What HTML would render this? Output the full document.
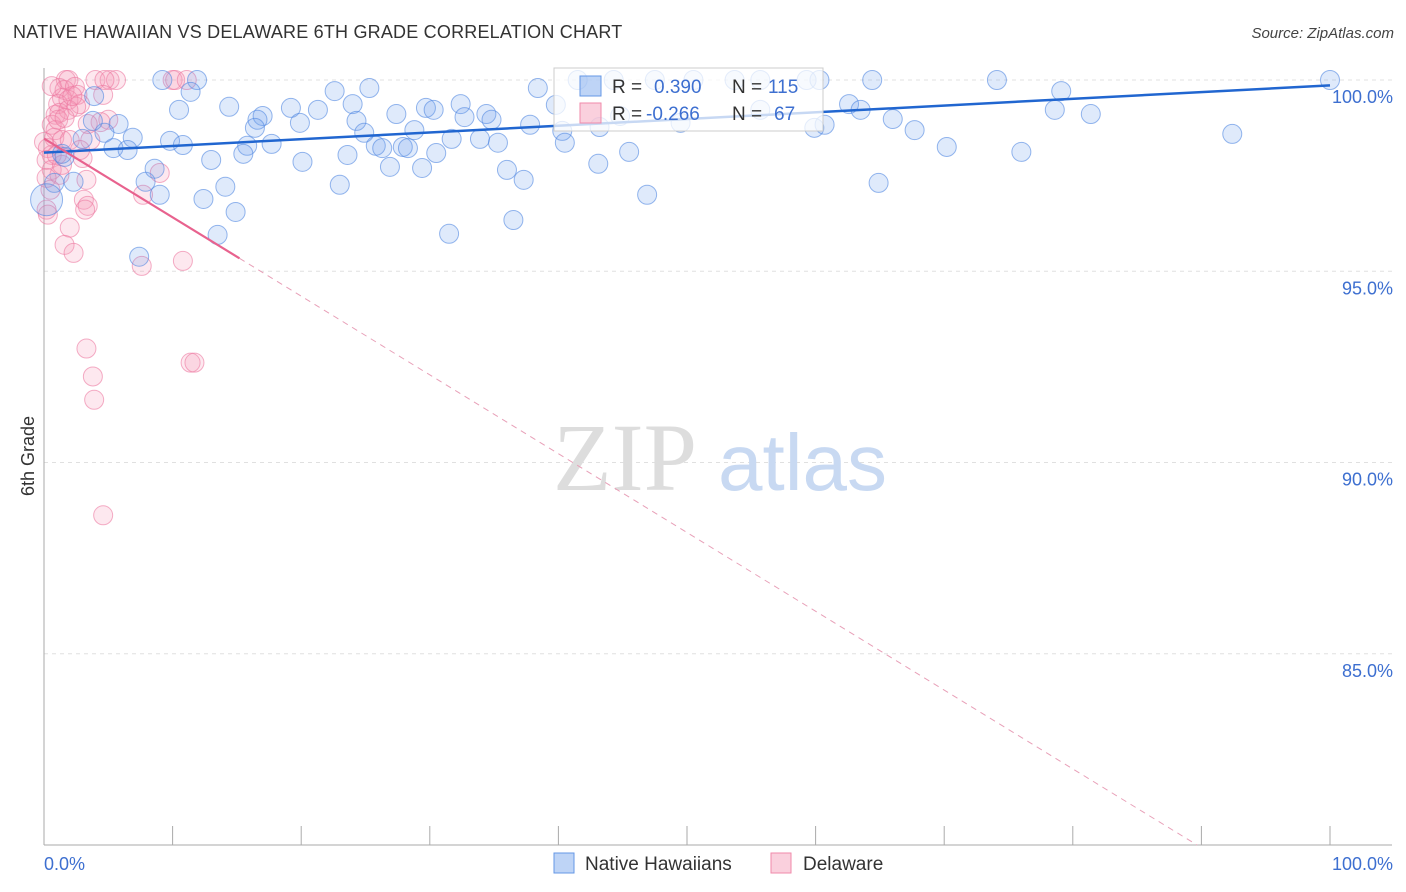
<!DOCTYPE html>
<html><head><meta charset="utf-8"><style>
body{margin:0;background:#fff;font-family:"Liberation Sans",sans-serif;}
#wrap{position:relative;width:1406px;height:892px;overflow:hidden}
.title{position:absolute;left:13px;top:22px;font-size:18px;color:#333;letter-spacing:0.2px}
.source{position:absolute;right:12px;top:25px;font-size:15px;color:#444;font-style:italic}
</style></head><body>
<div id="wrap">
<div class="title">NATIVE HAWAIIAN VS DELAWARE 6TH GRADE CORRELATION CHART</div>
<div class="source">Source: ZipAtlas.com</div>
<svg id="svg" width="1406" height="892" style="position:absolute;left:0;top:0"></svg>
</div>
<script>
const yTicks=[100,95,90,85];
const yTickLabels=["100.0%","95.0%","90.0%","85.0%"];
const blueX=[9.2,11.9,41.5,44.3,47.5,50.5,53.7,55.7,59.3,60.3,64.4,74.1,100,11.4,3.9,22.6,25.3,38.4,79.1,10.5,14.4,17.0,19.2,21.3,24.0,27.4,29.7,32.4,34.4,39.8,62.6,63.5,66.0,78.6,81.4,19.9,16.6,24.3,30.3,32.7,34.8,5.8,6.9,4.7,3.0,9.8,10.8,16.4,17.7,15.8,15.5,20.1,23.6,24.9,25.8,26.3,27.9,28.3,28.8,30.5,31.7,33.9,35.3,37.8,40.3,43.2,45.5,49.5,59.9,60.7,67.7,70.2,76.0,92.4,5.4,6.5,1.6,0.8,2.3,7.9,9.0,8.6,13.0,14.1,12.4,14.9,13.5,23.0,26.9,29.4,36.0,37.3,43.1,46.9,64.9,31.5,36.5,7.4,0.2,1.4,3.8,40.5,55.7,44.8];
const blueY=[100,100,100,100,100,100,100,100,100,100,100,100,100,99.69,99.58,99.71,99.79,99.79,99.71,99.22,99.30,99.06,99.27,99.22,99.37,99.11,99.27,99.37,99.11,99.35,99.37,99.22,98.98,99.22,99.11,98.88,98.96,98.93,99.22,99.03,98.96,98.85,98.49,98.62,98.46,98.41,98.30,98.75,98.33,98.28,98.07,97.86,98.04,98.62,98.28,98.22,98.25,98.22,98.69,98.09,98.46,98.46,98.36,98.83,98.67,98.77,98.12,98.88,98.75,98.83,98.69,98.25,98.12,98.59,98.22,98.17,97.99,97.31,97.34,97.34,97.00,97.68,97.91,97.21,96.89,96.55,95.95,97.26,97.73,97.70,97.65,97.39,97.81,97.00,97.31,95.98,96.34,95.38,96.87,98.07,98.93,98.36,99.22,99.06];
const pinkX=[1.7,1.9,4.0,5.1,5.6,10.0,10.2,11.1,4.7,1.2,1.6,2.4,2.6,4.6,1.4,1.1,1.9,2.8,2.5,0.9,1.2,1.9,0.6,0.9,0.8,1.4,0.3,0.6,0.2,3.0,0.6,1.2,0.2,5.0,3.6,3.3,3.1,3.4,3.2,2.0,1.6,2.3,9.0,7.7,7.6,10.8,3.3,3.8,3.9,11.4,11.7,4.6,0.2,0.3,0.5,1.1,2.2,0,4.4,1.6,0.6,2.0,1.4,1.0,3.4,2.8];
const pinkY=[100,100,100,100,100,100,100,100,100,99.79,99.74,99.82,99.61,99.61,99.53,99.37,99.48,99.37,99.30,99.09,99.14,99.22,98.83,98.69,98.49,98.43,98.22,98.04,97.91,97.96,97.65,97.52,97.44,98.96,98.43,97.39,96.87,96.71,96.61,96.14,95.69,95.48,97.57,97.00,95.14,95.27,92.98,92.25,91.64,92.61,92.61,88.62,96.61,96.48,97.13,98.96,99.58,98.38,98.90,99.01,99.84,98.43,97.78,98.04,98.85,98.17];
const blueFit=[98.1,99.86];
const pinkFit=[98.47,-0.206];
const pinkSolidEnd=15.2;

const S=document.getElementById('svg');const NS='http://www.w3.org/2000/svg';
const X0=44,X1=1330,YT=80,YB=845;
const sx=v=>X0+(X1-X0)*v/100;
const sy=v=>YT+(100-v)*(YB-YT)/20;
function mk(t,a,p){const e=document.createElementNS(NS,t);for(const k in a)e.setAttribute(k,a[k]);(p||S).appendChild(e);return e;}
yTicks.forEach((t,i)=>{
 const g=mk('line',{x1:X0,x2:1392,y1:sy(t),y2:sy(t),stroke:'#e0e0e0','stroke-dasharray':'4,4'});
 
 
 const l=mk('text',{x:1393,y:sy(t)+23,'text-anchor':'end','font-size':18,fill:'#3d6fd0','font-family':'Liberation Sans, sans-serif'});
 l.textContent=yTickLabels[i];
 
 
});
let ax=mk('line',{x1:X0,x2:X0,y1:68,y2:YB,stroke:'#aaa'});


ax=mk('line',{x1:X0,x2:1392,y1:YB,y2:YB,stroke:'#aaa'});


for(let i=0;i<=10;i++){const t=mk('line',{x1:sx(i*10),x2:sx(i*10),y1:826,y2:YB,stroke:'#aaa'});
 
 }
let w=mk('text',{x:553,y:490,'font-size':96,fill:'#ddd','font-family':'Liberation Serif, serif'});w.textContent='ZIP';


w=mk('text',{x:718,y:490,'font-size':80,fill:'#c8d9f2','font-family':'Liberation Sans, sans-serif'});w.textContent='atlas';


pinkX.forEach((x,i)=>{const c=mk('circle',{cx:sx(x),cy:sy(pinkY[i]),r:9.5,fill:'rgba(244,150,180,0.22)',stroke:'rgba(236,120,160,0.6)','stroke-width':1});
 
 });
blueX.forEach((x,i)=>{const c=mk('circle',{cx:sx(x),cy:sy(blueY[i]),r:(i==98?16:9.5),fill:'rgba(110,160,235,0.22)',stroke:'rgba(80,135,225,0.6)','stroke-width':1});
 
 });
let f=mk('line',{x1:sx(0),y1:sy(blueFit[0]),x2:sx(100),y2:sy(blueFit[1]),stroke:'#2166d0','stroke-width':2.5});


const pf=x=>pinkFit[0]+pinkFit[1]*x;
f=mk('line',{x1:sx(0),y1:sy(pf(0)),x2:sx(pinkSolidEnd),y2:sy(pf(pinkSolidEnd)),stroke:'#e8628e','stroke-width':2.2});


const xe=(80-pinkFit[0])/pinkFit[1];
f=mk('line',{x1:sx(pinkSolidEnd),y1:sy(pf(pinkSolidEnd)),x2:sx(xe),y2:sy(pf(xe)),stroke:'#e8a0b8','stroke-width':1,'stroke-dasharray':'6,5'});


let xl=mk('text',{x:44,y:870,'font-size':18,fill:'#3d6fd0'});xl.textContent='0.0%';


xl=mk('text',{x:1393,y:870,'font-size':18,fill:'#3d6fd0','text-anchor':'end'});xl.textContent='100.0%';


let yt=mk('text',{x:0,y:0,'font-size':18,fill:'#333',transform:'translate(34,456) rotate(-90)','text-anchor':'middle'});yt.textContent='6th Grade';


const lg=mk('g',{});


mk('rect',{x:554,y:68,width:269,height:63,fill:'rgba(255,255,255,0.75)',stroke:'#ccc'},lg);
mk('rect',{x:580,y:76,width:21,height:20,fill:'rgba(110,160,235,0.45)',stroke:'#6497e6'},lg);
mk('rect',{x:580,y:103,width:21,height:20,fill:'rgba(244,150,180,0.45)',stroke:'#f08aaa'},lg);
function t(x,y,s,c,p){const e=mk('text',{x:x,y:y,'font-size':19,fill:c},p);e.textContent=s;return e;}
t(612,93,'R =','#333',lg);t(654,93,'0.390','#3d6fd0',lg);t(732,93,'N =','#333',lg);t(768,93,'115','#3d6fd0',lg);
t(612,120,'R =','#333',lg);t(646,120,'-0.266','#3d6fd0',lg);t(732,120,'N =','#333',lg);t(774,120,'67','#3d6fd0',lg);
const bl=mk('g',{});


mk('rect',{x:554,y:853,width:20,height:20,fill:'rgba(110,160,235,0.45)',stroke:'#6497e6'},bl);
t(585,870,'Native Hawaiians','#333',bl);
mk('rect',{x:771,y:853,width:20,height:20,fill:'rgba(244,150,180,0.45)',stroke:'#f08aaa'},bl);
t(803,870,'Delaware','#333',bl);
</script>
</body></html>
